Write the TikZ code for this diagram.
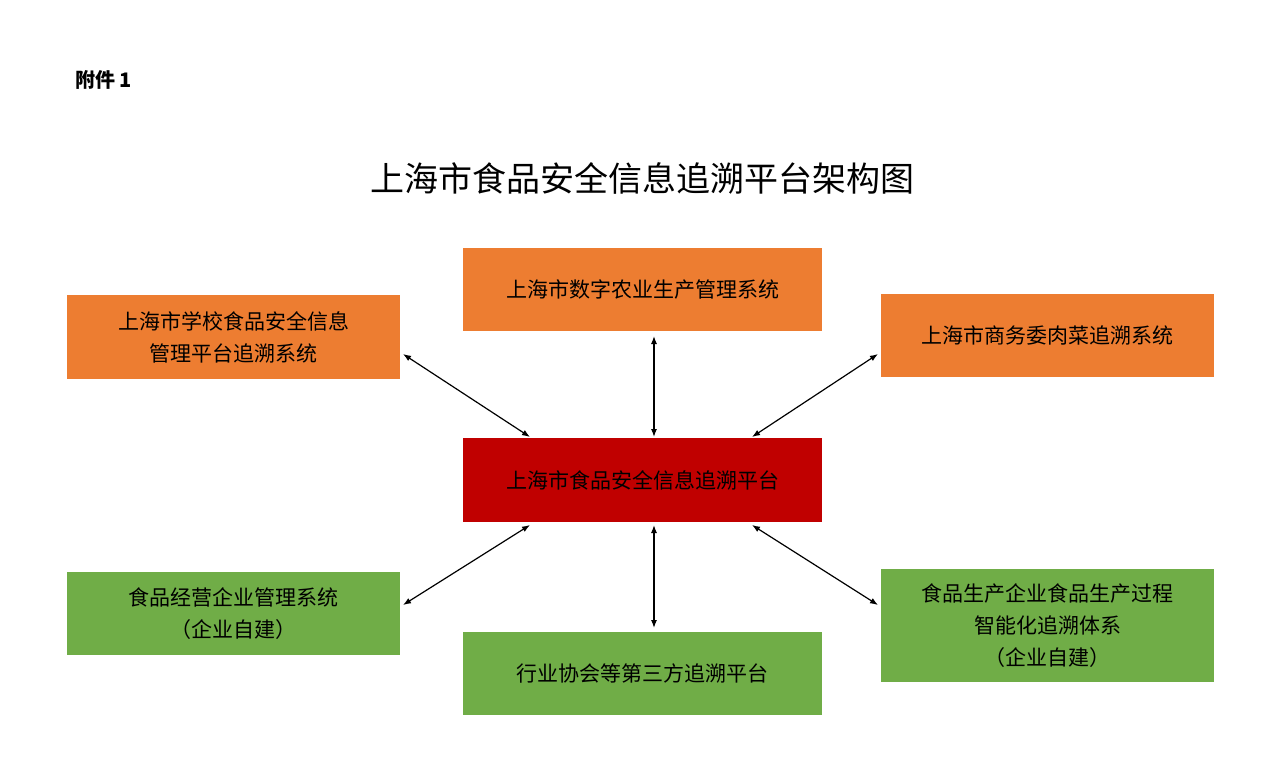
\documentclass[tikz,border=0pt]{standalone}
\usepackage{fontspec}
\newfontfamily\cjk{Noto Sans CJK SC}
\usetikzlibrary{arrows.meta}
\definecolor{org}{HTML}{ED7D31}
\definecolor{rd}{HTML}{C00000}
\definecolor{grn}{HTML}{70AD47}
\begin{document}
\begin{tikzpicture}[x=0.5pt,y=-0.5pt,
 box/.style={inner sep=0pt,align=center,font=\cjk\fontsize{10.5}{16}\selectfont},
 arr/.style={{Latex[length=4pt,width=3pt]}-{Latex[length=4pt,width=3pt]},line width=0.6pt}]
\useasboundingbox[fill=white] (0,0) rectangle (1280,781);
\node[anchor=west,font=\cjk\bfseries\fontsize{10}{12}\selectfont] (att) at (68,80) {附件 1};
\node[font=\cjk\fontsize{17}{20}\selectfont] (title) at (642,178) {上海市食品安全信息追溯平台架构图};
\fill[org] (463,248) rectangle (822,331); \node[box] (tc) at (642.5,290) {上海市数字农业生产管理系统};
\fill[org] (67,295) rectangle (400,379); \node[box] (tl) at (233.5,337) {上海市学校食品安全信息\\管理平台追溯系统};
\fill[org] (881,294) rectangle (1214,377); \node[box] (tr) at (1047.5,335.5) {上海市商务委肉菜追溯系统};
\fill[rd] (463,438) rectangle (822,522); \node[box] (c) at (642.5,480) {上海市食品安全信息追溯平台};
\fill[grn] (67,572) rectangle (400,655); \node[box] (bl) at (233.5,613.5) {食品经营企业管理系统\\（企业自建）};
\fill[grn] (463,632) rectangle (822,715); \node[box] (bc) at (642.5,673.5) {行业协会等第三方追溯平台};
\fill[grn] (881,569) rectangle (1214,682); \node[box] (br) at (1047.5,625.5) {食品生产企业食品生产过程\\智能化追溯体系\\（企业自建）};
\coordinate (a1) at (654,336); \coordinate (a2) at (654,437);
\coordinate (b1) at (403,354); \coordinate (b2) at (530,437);
\coordinate (c1) at (878,354); \coordinate (c2) at (752,437);
\coordinate (d1) at (403,605); \coordinate (d2) at (530,525);
\coordinate (e1) at (654,525); \coordinate (e2) at (654,628);
\coordinate (f1) at (752,525); \coordinate (f2) at (878,605);
\draw[arr] (a1) -- (a2);
\draw[arr] (b1) -- (b2);
\draw[arr] (c1) -- (c2);
\draw[arr] (d1) -- (d2);
\draw[arr] (e1) -- (e2);
\draw[arr] (f1) -- (f2);
\end{tikzpicture}
\end{document}
